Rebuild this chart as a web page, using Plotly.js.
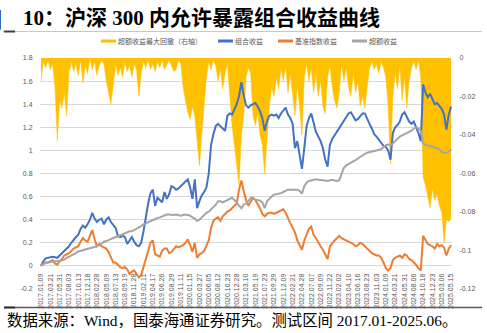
<!DOCTYPE html>
<html>
<head>
<meta charset="utf-8">
<script src="https://cdn.plot.ly/plotly-3.0.1.min.js"></script>
<style>html,body{margin:0;padding:0;background:#fff;}#chart{width:487px;height:333px;}</style>
</head>
<body>
<div id="chart"></div>
<script>
// x-axis category labels (one every ~48 trading days)
const dateLabels = ['2017.01.09','2017.03.21','2017.05.31','2017.08.03','2017.10.13','2017.12.18','2018.02.28','2018.05.09','2018.07.13','2018.09.19','2018.11.28','2019.02.11','2019.04.17','2019.06.26','2019.08.29','2019.11.11','2020.01.15','2020.03.27','2020.06.05','2020.08.12','2020.10.23','2020.12.28','2021.03.10','2021.05.19','2021.07.23','2021.09.29','2021.12.09','2022.02.21','2022.04.28','2022.07.07','2022.09.09','2022.11.22','2023.02.02','2023.04.10','2023.06.16','2023.08.23','2023.11.03','2024.01.09','2024.03.21','2024.05.31','2024.08.06','2024.10.18','2024.12.23','2025.03.06','2025.05.15'];
// samples per label interval
const samplesPerLabel = 4;

const leftTickVals = [-0.2,0,0.2,0.4,0.6,0.8,1,1.2,1.4,1.6,1.8];
const leftTickText = ['-0.2','0','0.2','0.4','0.6','0.8','1','1.2','1.4','1.6','1.8'];
const rightTickVals = [-0.12,-0.1,-0.08,-0.06,-0.04,-0.02,0];
const rightTickText = ['-0.12','-0.1','-0.08','-0.06','-0.04','-0.02','0'];

// 组合收益
const portfolio = [
0.00,0.04,0.065,0.07, 0.075,0.08,0.075,0.07, 0.09,0.11,0.125,0.15, 0.17,0.20,0.23,0.25,
0.27,0.32,0.35,0.33, 0.36,0.40,0.46,0.41, 0.38,0.40,0.41,0.36, 0.40,0.42,0.38,0.35,
0.33,0.26,0.25,0.26, 0.25,0.19,0.22,0.25, 0.21,0.18,0.17,0.20, 0.30,0.44,0.54,0.63,
0.66,0.52,0.59,0.57, 0.55,0.64,0.58,0.62, 0.69,0.68,0.66,0.67, 0.69,0.71,0.73,0.75,
0.68,0.58,0.75,0.50, 0.56,0.61,0.64,0.68, 0.80,1.05,1.14,1.21, 1.23,1.21,1.19,1.17,
1.30,1.32,1.31,1.35, 1.40,1.47,1.59,1.48, 1.39,1.37,1.39,1.40, 1.41,1.38,1.34,1.28,
1.17,1.25,1.30,1.31, 1.30,1.31,1.28,1.32, 1.35,1.37,1.31,1.28, 1.23,1.02,1.08,0.95,
0.84,1.02,1.21,1.28, 1.32,1.24,1.16,1.12, 1.08,1.02,0.92,0.86, 1.05,1.10,1.13,1.16,
1.20,1.23,1.26,1.29, 1.32,1.33,1.29,1.26, 1.27,1.30,1.32,1.32, 1.27,1.23,1.19,1.14,
1.12,1.09,1.07,1.04, 1.03,1.00,0.92,1.15, 1.20,1.22,1.25,1.31, 1.33,1.29,1.25,1.23,
1.25,1.20,1.15,1.08, 1.57,1.50,1.46,1.49, 1.44,1.40,1.41,1.38, 1.36,1.31,1.18,1.31,
1.38];

// 基准指数收益
const benchmark = [
0.00,0.02,0.03,0.03, 0.04,0.05,0.02,0.01, 0.04,0.06,0.09,0.10, 0.11,0.13,0.15,0.16,
0.17,0.21,0.24,0.22, 0.21,0.26,0.31,0.23, 0.17,0.19,0.17,0.16, 0.15,0.12,0.07,0.03,
0.03,0.01,-0.01,-0.02, -0.01,-0.03,-0.07,-0.05, -0.04,-0.07,-0.10,-0.08, -0.01,0.06,0.14,0.20,
0.22,0.10,0.09,0.08, 0.13,0.15,0.15,0.11, 0.12,0.15,0.17,0.16, 0.17,0.18,0.20,0.23,
0.18,0.12,0.20,0.07, 0.10,0.11,0.13,0.17, 0.22,0.33,0.39,0.41, 0.42,0.39,0.43,0.45,
0.47,0.48,0.50,0.52, 0.54,0.66,0.74,0.65, 0.57,0.52,0.55,0.59, 0.57,0.54,0.50,0.45,
0.43,0.45,0.46,0.46, 0.45,0.46,0.47,0.48, 0.49,0.46,0.41,0.37, 0.33,0.29,0.22,0.18,
0.14,0.22,0.28,0.32, 0.34,0.27,0.24,0.20, 0.17,0.14,0.10,0.06, 0.17,0.20,0.22,0.24,
0.26,0.24,0.23,0.22, 0.21,0.20,0.19,0.17, 0.18,0.20,0.19,0.17, 0.15,0.13,0.11,0.10,
0.09,0.09,0.07,0.03, -0.02,-0.04,-0.02,0.05, 0.07,0.08,0.09,0.07, 0.10,0.09,0.06,0.05,
0.03,0.01,-0.02,-0.04, 0.26,0.22,0.19,0.18, 0.17,0.15,0.19,0.17, 0.18,0.16,0.09,0.15,
0.18];

// 超额收益
const excess = [
0.00,0.015,0.025,0.03, 0.035,0.04,0.04,0.04, 0.045,0.05,0.055,0.07, 0.08,0.09,0.095,0.11,
0.125,0.13,0.14,0.14, 0.145,0.15,0.155,0.16, 0.17,0.18,0.195,0.21, 0.215,0.225,0.23,0.24,
0.25,0.255,0.265,0.27, 0.28,0.29,0.30,0.30, 0.31,0.32,0.33,0.345, 0.36,0.37,0.38,0.39,
0.40,0.405,0.415,0.42, 0.43,0.44,0.445,0.445, 0.44,0.44,0.445,0.44, 0.435,0.44,0.445,0.44,
0.435,0.42,0.41,0.39, 0.40,0.42,0.44,0.46, 0.47,0.49,0.51,0.53, 0.56,0.56,0.55,0.56,
0.57,0.585,0.59,0.57, 0.55,0.52,0.50,0.53, 0.54,0.56,0.59,0.58, 0.575,0.57,0.565,0.55,
0.50,0.56,0.585,0.60, 0.617,0.62,0.625,0.63, 0.64,0.65,0.66,0.66, 0.66,0.655,0.66,0.65,
0.625,0.69,0.72,0.735, 0.74,0.75,0.75,0.745, 0.745,0.74,0.74,0.735, 0.74,0.745,0.74,0.735,
0.74,0.80,0.85,0.87, 0.88,0.89,0.905,0.915, 0.93,0.945,0.955,0.97, 0.98,0.985,0.99,0.995,
1.00,1.005,1.01,1.03, 1.045,1.05,1.045,1.06, 1.08,1.10,1.12,1.13, 1.14,1.15,1.16,1.17,
1.19,1.20,1.19,1.17, 1.06,1.05,1.04,1.04, 1.03,1.02,1.02,1.01, 0.99,0.98,0.98,0.99,
1.01];

// 超额收益最大回撤（右轴）
const drawdown = [
-0.012,-0.002,-0.005,-0.001, -0.006,-0.003,-0.015,-0.043, -0.022,-0.026,-0.018,-0.030, -0.008,-0.002,-0.007,-0.003,
-0.009,-0.001,-0.013,-0.004, -0.008,0,-0.006,-0.002, -0.009,-0.004,-0.001,-0.003, -0.012,-0.018,-0.024,-0.014,
-0.003,-0.009,-0.005,-0.010, -0.002,-0.007,-0.004,-0.010, -0.003,-0.006,-0.020,-0.008, -0.002,-0.005,-0.001,-0.006,
-0.003,-0.007,-0.002,-0.005, -0.001,-0.006,-0.003,-0.001, -0.004,-0.007,-0.006,-0.001, -0.003,-0.015,-0.022,-0.028,
-0.032,-0.025,-0.030,-0.045, -0.056,-0.040,-0.025,-0.010, -0.002,-0.006,-0.001,-0.004, -0.012,-0.006,-0.016,-0.008,
-0.003,-0.020,-0.035,-0.045, -0.055,-0.066,-0.040,-0.030, -0.010,-0.005,-0.008,-0.030, -0.035,-0.028,-0.040,-0.045,
-0.060,-0.040,-0.025,-0.015, -0.020,-0.010,-0.016,-0.005, -0.012,-0.004,-0.018,-0.008, -0.020,-0.030,-0.015,-0.025,
-0.040,-0.010,-0.003,-0.012, -0.005,-0.018,-0.008,-0.020, -0.012,-0.025,-0.029,-0.010, -0.004,-0.015,-0.022,-0.026,
-0.018,-0.003,-0.012,-0.005, -0.015,-0.020,-0.008,-0.018, -0.012,-0.025,-0.020,-0.026, -0.015,-0.005,-0.002,-0.006,
-0.003,-0.008,-0.002,-0.005, -0.010,-0.025,-0.055,-0.020, -0.008,-0.016,-0.004,-0.022, -0.010,-0.026,-0.012,-0.005,
-0.002,-0.006,-0.001,-0.010, -0.062,-0.066,-0.072,-0.078, -0.068,-0.074,-0.070,-0.077, -0.080,-0.096,-0.084,-0.085,
-0.083];

const xIdx = portfolio.map((_, i) => i / samplesPerLabel);
const labelIdx = dateLabels.map((_, i) => i);

const W = 487, H = 333, L = 40, R = 35, T = 58, B = 44;
const pw = W - L - R, ph = H - T - B;
const px = x => (x - L) / pw;
const py = y => (H - B - y) / ph;

const cjk = 'Noto Sans CJK SC';
const tickFont = {family: 'Liberation Sans, ' + cjk, size: 7, color: '#595959'};

const traces = [
  {x: xIdx, y: drawdown, yaxis: 'y', type: 'scatter', mode: 'lines', fill: 'tozeroy',
   fillcolor: '#FFC000', line: {color: '#FFC000', width: 0.5}, hoverinfo: 'skip'},
  {x: xIdx, y: portfolio, yaxis: 'y2', type: 'scatter', mode: 'lines', line: {color: '#4472C4', width: 2}},
  {x: xIdx, y: benchmark, yaxis: 'y2', type: 'scatter', mode: 'lines', line: {color: '#ED7D31', width: 2}},
  {x: xIdx, y: excess, yaxis: 'y2', type: 'scatter', mode: 'lines', line: {color: '#A5A5A5', width: 2}}
];

const legendItems = [
  {x0: 101, text: '超额收益最大回撤（右轴）', color: '#FFC000'},
  {x0: 218, text: '组合收益', color: '#4472C4'},
  {x0: 278, text: '基准指数收益', color: '#ED7D31'},
  {x0: 352, text: '超额收益', color: '#A5A5A5'}
];

const shapes = [
  {type: 'line', xref: 'paper', yref: 'paper', x0: px(3), x1: px(482), y0: py(31.5), y1: py(31.5), line: {color: '#c8c8c8', width: 1}},
  {type: 'line', xref: 'paper', yref: 'paper', x0: px(4), x1: px(15), y0: py(31.5), y1: py(31.5), line: {color: '#404040', width: 2}},
  {type: 'line', xref: 'paper', yref: 'paper', x0: px(4), x1: px(482), y0: py(307.5), y1: py(307.5), line: {color: '#595959', width: 1.3}},
  {type: 'line', xref: 'paper', yref: 'paper', x0: px(4), x1: px(15), y0: py(307.5), y1: py(307.5), line: {color: '#303030', width: 2}}
];
const annotations = [];
legendItems.forEach(it => {
  shapes.push({type: 'line', xref: 'paper', yref: 'paper', x0: px(it.x0), x1: px(it.x0 + 15), y0: py(41), y1: py(41), line: {color: it.color, width: 3}});
  annotations.push({xref: 'paper', yref: 'paper', x: px(it.x0 + 16), y: py(41), xanchor: 'left', yanchor: 'middle', showarrow: false, borderpad: 0,
    text: it.text, font: {family: cjk, size: 7, color: '#595959'}});
});
annotations.push({xref: 'paper', yref: 'paper', x: px(3), y: py(18.5), xanchor: 'right', yanchor: 'middle', showarrow: false, borderpad: 0,
  text: '<b>图</b>', font: {family: cjk, size: 21, color: '#000'}});
annotations.push({xref: 'paper', yref: 'paper', x: px(22), y: py(18.5), xanchor: 'left', yanchor: 'middle', showarrow: false, borderpad: 0,
  text: '<b>10：沪深 300 内允许暴露组合收益曲线</b>', font: {family: 'Liberation Serif, ' + cjk, size: 21, color: '#000'}});
annotations.push({xref: 'paper', yref: 'paper', x: px(6), y: py(320.5), xanchor: 'left', yanchor: 'middle', showarrow: false, borderpad: 0,
  text: '数据来源：Wind，国泰海通证券研究。测试区间 2017.01-2025.06。', font: {family: 'Liberation Serif, ' + cjk, size: 15.4, color: '#000'}});

const layout = {
  width: W, height: H,
  margin: {l: L, r: R, t: T, b: B, pad: 0},
  paper_bgcolor: '#fff', plot_bgcolor: '#fff',
  showlegend: false,
  xaxis: {range: [-0.107, 44.1], tickmode: 'array', tickvals: labelIdx, ticktext: dateLabels, tickangle: -90,
    tickfont: tickFont, anchor: 'free', position: 0.1, showgrid: false, zeroline: false, showline: false,
    ticks: 'outside', ticklen: 4, tickcolor: 'rgba(0,0,0,0)', automargin: false},
  yaxis: {side: 'right', range: [-0.12, 0], tickmode: 'array', tickvals: rightTickVals, ticktext: rightTickText,
    tickfont: tickFont, showgrid: false, zeroline: false, showline: false,
    ticks: 'outside', ticklen: 5, tickcolor: 'rgba(0,0,0,0)', automargin: false},
  yaxis2: {overlaying: 'y', side: 'left', range: [-0.2, 1.8], tickmode: 'array', tickvals: leftTickVals, ticktext: leftTickText,
    tickfont: tickFont, showgrid: true, gridcolor: '#d9d9d9', gridwidth: 1, zeroline: false, showline: false,
    ticks: 'outside', ticklen: 5, tickcolor: 'rgba(0,0,0,0)', automargin: false},
  shapes: shapes,
  annotations: annotations
};

Plotly.newPlot('chart', traces, layout, {staticPlot: true, displayModeBar: false});
</script>
</body>
</html>
